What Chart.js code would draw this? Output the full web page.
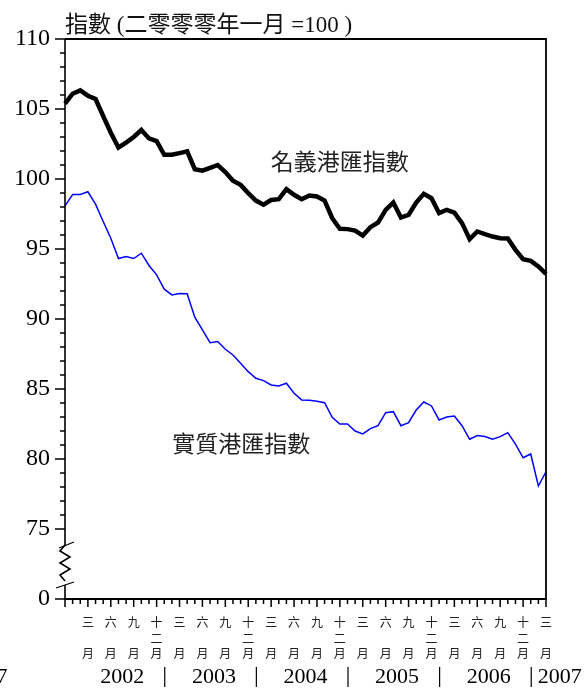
<!DOCTYPE html>
<html>
<head>
<meta charset="utf-8">
<script src="https://cdn.jsdelivr.net/npm/chart.js@4.4.0/dist/chart.umd.min.js"></script>
<style>
  body { margin: 0; background: #fff; }
</style>
</head>
<body>
<canvas id="hkChart" width="587" height="688"></canvas>
<script>
// months from Dec 2001 to Mar 2007
const months = [];
for (let y = 2001, m = 12; y < 2007 || m <= 3; ) {
  months.push(y + '-' + String(m).padStart(2, '0'));
  m++;
  if (m > 12) { m = 1; y++; }
}

const quarterNames = {
  3: ['三', '', '月'],
  6: ['六', '', '月'],
  9: ['九', '', '月'],
  12: ['十', '二', '月']
};
const years = ['2002', '2003', '2004', '2005', '2006', '2007'];
const yTicks = [70, 75, 80, 85, 90, 95, 100, 105, 110];

const nominal = [105.38, 106.09, 106.33, 105.95, 105.71, 104.5, 103.3, 102.25, 102.6, 103.0,
  103.5, 102.9, 102.7, 101.73, 101.73, 101.85, 101.97, 100.7, 100.6, 100.8,
  101.0, 100.5, 99.87, 99.58, 98.99, 98.46, 98.16, 98.5, 98.56, 99.28,
  98.87, 98.56, 98.82, 98.75, 98.46, 97.2, 96.44, 96.42, 96.32, 95.96,
  96.56, 96.89, 97.8, 98.32, 97.25, 97.44, 98.32, 98.94, 98.63, 97.56,
  97.8, 97.6, 96.85, 95.7, 96.25, 96.06, 95.89, 95.77, 95.75, 94.94,
  94.27, 94.15, 93.75, 93.22];

const real = [98.08, 98.89, 98.89, 99.09, 98.2, 96.96, 95.77, 94.32, 94.46, 94.32,
  94.7, 93.82, 93.15, 92.13, 91.72, 91.82, 91.8, 90.13, 89.22, 88.31,
  88.39, 87.84, 87.43, 86.84, 86.24, 85.77, 85.6, 85.29, 85.22, 85.41,
  84.7, 84.22, 84.2, 84.12, 84.02, 82.98, 82.5, 82.5, 82.0, 81.79,
  82.17, 82.38, 83.31, 83.38, 82.38, 82.6, 83.5, 84.07, 83.79, 82.79,
  83.0, 83.07, 82.38, 81.41, 81.67, 81.6, 81.41, 81.6, 81.88, 81.07,
  80.09, 80.36, 78.07, 79.09];

const serif = '"Liberation Serif", "Noto Sans CJK TC", serif';
const cjk = '"Noto Sans CJK TC", sans-serif';

const frame = {
  id: 'frame',
  afterDraw(chart) {
    const { ctx, chartArea: a, scales: { x, y } } = chart;
    ctx.save();
    ctx.strokeStyle = '#000';
    ctx.lineWidth = 1.8;

    // top, right and bottom borders
    ctx.beginPath();
    ctx.moveTo(a.left, a.top);
    ctx.lineTo(a.right, a.top);
    ctx.lineTo(a.right, a.bottom);
    ctx.lineTo(a.left - 1, a.bottom);
    ctx.stroke();

    // left axis with break
    const L = a.left;
    const y75 = y.getPixelForValue(75);
    const b1 = y75 + 16, b2 = a.bottom - 16;
    ctx.lineWidth = 1.6;
    ctx.beginPath();
    ctx.moveTo(L, a.top);
    ctx.lineTo(L, b1);
    const zz = [[-5, 6], [5, 12], [-5, 18], [5, 24], [-5, 30], [0, 36]];
    zz.forEach(p => ctx.lineTo(L + p[0], b1 + p[1]));
    ctx.moveTo(L, b2 + 2);
    ctx.lineTo(L, a.bottom);
    ctx.stroke();
    ctx.lineWidth = 1.3;
    ctx.beginPath();
    ctx.moveTo(L - 6, b1 + 3); ctx.lineTo(L + 9, b1 - 3);
    ctx.moveTo(L - 9, b2 + 5); ctx.lineTo(L + 9, b2 - 1);
    ctx.stroke();

    // y ticks
    ctx.lineWidth = 1.5;
    ctx.beginPath();
    for (let v = 75; v <= 110; v++) {
      const py = y.getPixelForValue(v);
      const len = v % 5 === 0 ? 10 : 5;
      ctx.moveTo(L - len, py); ctx.lineTo(L, py);
    }
    ctx.moveTo(L - 10, a.bottom); ctx.lineTo(L, a.bottom);
    // x ticks
    months.forEach((mo, i) => {
      const px = x.getPixelForValue(i);
      const m = Number(mo.slice(5));
      const len = m % 3 === 0 ? 8 : 5;
      ctx.moveTo(px, a.bottom); ctx.lineTo(px, a.bottom + len);
    });
    ctx.stroke();

    // year labels and separators
    ctx.fillStyle = '#000';
    ctx.font = '22px ' + serif;
    ctx.textBaseline = 'alphabetic';
    const yy = 683;
    years.forEach((yr, k) => {
      const iJan = months.indexOf(yr + '-01');
      const iJul = months.indexOf(yr + '-07');
      if (k > 0) {
        const sx = x.getPixelForValue(iJan) + 0.5;
        ctx.beginPath();
        ctx.lineWidth = 1.2;
        ctx.moveTo(sx, 667); ctx.lineTo(sx, 687);
        ctx.stroke();
      }
      if (iJul >= 0) {
        ctx.textAlign = 'center';
        ctx.fillText(yr, (x.getPixelForValue(iJul) + x.getPixelForValue(iJul + 1)) / 2, yy);
      } else {
        ctx.textAlign = 'left';
        ctx.fillText(yr, x.getPixelForValue(iJan) + 7, yy);
      }
    });
    ctx.textAlign = 'right';
    ctx.fillText('7', 7.5, yy);

    // title
    ctx.textAlign = 'left';
    ctx.font = '23px ' + serif;
    ctx.fillStyle = '#111';
    ctx.fillText('指數 (二零零零年一月 =100 )', L, 32);

    // series labels
    ctx.font = '23px ' + cjk;
    ctx.fillStyle = '#222';
    ctx.textAlign = 'center';
    ctx.textBaseline = 'middle';
    ctx.fillText('名義港匯指數', x.getPixelForValue(36), y.getPixelForValue(101.3));
    ctx.fillText('實質港匯指數', x.getPixelForValue(23.1), y.getPixelForValue(81.15));
    ctx.restore();
  }
};

new Chart('hkChart', {
  type: 'line',
  data: {
    labels: months,
    datasets: [
      {
        label: '名義港匯指數',
        data: nominal,
        borderColor: '#000',
        borderWidth: 4.5,
        pointRadius: 0,
        tension: 0
      },
      {
        label: '實質港匯指數',
        data: real,
        borderColor: 'rgb(0, 0, 255)',
        borderWidth: 1.5,
        pointRadius: 0,
        tension: 0
      }
    ]
  },
  options: {
    responsive: false,
    animation: false,
    layout: { padding: { top: 39, right: 41, left: 0, bottom: 0 } },
    plugins: {
      legend: { display: false },
      tooltip: { enabled: false }
    },
    scales: {
      x: {
        offset: false,
        grid: { display: false, drawTicks: false },
        border: { display: false },
        ticks: {
          autoSkip: false,
          maxRotation: 0,
          padding: 16,
          color: '#222',
          font: { family: cjk, size: 12, lineHeight: '15.5px' },
          callback: (v, i) => {
            const m = Number(months[i].slice(5));
            return i > 0 && m % 3 === 0 ? quarterNames[m] : '';
          }
        },
        afterFit: s => { s.height = 89; }
      },
      y: {
        min: 70,
        max: 110,
        grid: { display: false, drawTicks: false },
        border: { display: false },
        afterBuildTicks: s => { s.ticks = yTicks.map(v => ({ value: v })); },
        ticks: {
          padding: 15,
          color: '#000',
          font: { family: serif, size: 24 },
          callback: v => v === 70 ? '0' : v
        },
        afterFit: s => { s.width = 65; }
      }
    }
  },
  plugins: [frame]
});
</script>
</body>
</html>
